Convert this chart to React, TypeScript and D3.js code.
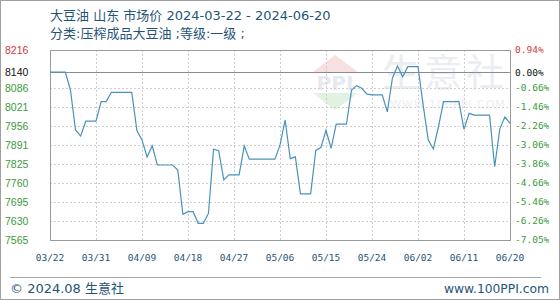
import React, { useEffect } from "react";
import * as d3 from "d3";

const title = "大豆油 山东 市场价 2024-03-22 - 2024-06-20";
const subtitle = "分类:压榨成品大豆油 ;等级:一级 ;";
const baseValue = 8140;
const yMin = 7565;
const yMax = 8216;
const leftTicks = [8216, 8140, 8086, 8021, 7956, 7891, 7825, 7760, 7695, 7630, 7565];
const rightTicks = ["0.94%", "0.00%", "-0.66%", "-1.46%", "-2.26%", "-3.06%", "-3.86%", "-4.66%", "-5.46%", "-6.26%", "-7.05%"];
const xLabels = ["03/22", "03/31", "04/09", "04/18", "04/27", "05/06", "05/15", "05/24", "06/02", "06/11", "06/20"];
const xLabelStep = 9;
// daily prices 03/22 .. 06/20 (91 calendar days)
const prices = [
  8140, 8140, 8140, 8140, 8079, 7942, 7921, 7972, 7972, 7972,
  8039, 8039, 8071, 8071, 8071, 8071, 8071, 7940, 7908, 7849,
  7888, 7822, 7822, 7822, 7822, 7805, 7653, 7662, 7662, 7622,
  7622, 7656, 7876, 7871, 7771, 7788, 7788, 7788, 7887, 7842,
  7842, 7842, 7842, 7842, 7842, 7890, 7976, 7844, 7850, 7723,
  7723, 7723, 7872, 7882, 7941, 7879, 7962, 7962, 7962, 8079,
  8094, 8085, 8065, 8062, 8062, 8062, 8004, 8120, 8161, 8124,
  8159, 8159, 8159, 8028, 7908, 7877, 7953, 8039, 8039, 8039,
  8039, 7944, 7999, 7993, 7993, 7993, 7993, 7816, 7945, 7987,
  7965,
];

const W = 560;
const H = 300;
const L = 50, R = 510, T = 50, B = 240;

export default function App() {
  useEffect(() => {
    document.body.style.margin = "0";
  }, []);

  const x = d3.scaleLinear().domain([0, prices.length - 1]).range([L, R]);
  const y = d3.scaleLinear().domain([yMin, yMax]).range([B, T]);
  const line = d3.line<number>().x((_, i) => x(i)).y((d) => y(d));

  const step = (yMax - yMin) / 10;
  const gridVals = d3.range(2, 10).map((k) => yMax - k * step);
  const vGrid = d3.range(1, xLabels.length - 1).map((i) => i * xLabelStep);

  const textBlue = "#1f5478";
  const green = "#3c9a3c";
  const red = "#d23c3c";
  const labelColor = (i: number) => (i === 0 ? red : i === 1 ? "#111" : green);
  const uiFont = "'DejaVu Sans', 'Noto Sans CJK SC', sans-serif";

  return (
    <svg width={W} height={H} style={{ position: "absolute", left: 0, top: 0, background: "#fff" }}>
      <rect x={0.5} y={0.5} width={W - 1} height={H - 1} fill="#fff" stroke="#a0a0a0" />
      <text x={50} y={20} fontSize={13} fill={textBlue} fontFamily={uiFont}>{title}</text>
      <text x={50} y={38} fontSize={13} fill={textBlue} fontFamily={uiFont}>{subtitle}</text>

      {/* watermark */}
      <g opacity={0.75}>
        <path d="M335,55 L358,72 L313,72 Z" fill="#f6d6d6" />
        <text x={335} y={90} fontSize={20} fontWeight="bold" textAnchor="middle" fill="#dde3ee" fontFamily="'DejaVu Sans', sans-serif">PPI</text>
        <path d="M313,93 L358,93 L335,110 Z" fill="#d9eed9" />
        <text x={445} y={86} fontSize={38} textAnchor="middle" fill="#e3e7ee" fontFamily="'Noto Sans CJK SC', sans-serif" letterSpacing={4}>生意社</text>
        <text x={448} y={108} fontSize={11} textAnchor="middle" fill="#e6e9ef" fontFamily="'DejaVu Sans', sans-serif" letterSpacing={1}>WWW.100PPI.COM</text>
      </g>

      {gridVals.map((v, i) => (
        <line key={"h" + i} x1={L} x2={R} y1={Math.round(y(v)) + 0.5} y2={Math.round(y(v)) + 0.5} stroke="#cfcfcf" strokeDasharray="2,2" />
      ))}
      {vGrid.map((d, i) => (
        <line key={"v" + i} x1={Math.round(x(d)) + 0.5} x2={Math.round(x(d)) + 0.5} y1={T} y2={B} stroke="#cfcfcf" strokeDasharray="2,2" />
      ))}
      <line x1={L} x2={R} y1={Math.round(y(baseValue)) + 0.5} y2={Math.round(y(baseValue)) + 0.5} stroke="#8c8c8c" />
      <rect x={L + 0.5} y={T + 0.5} width={R - L} height={B - T} fill="none" stroke="#9a9a9a" />

      <path d={line(prices) || ""} fill="none" stroke="#4a92bb" strokeWidth={1.2} />

      {leftTicks.map((v, i) => (
        <text key={"l" + i} x={5} y={y(v)} dy="0.35em" fontSize={10.5} fill={labelColor(i)} fontFamily="'Liberation Sans', Arial, sans-serif">{v}</text>
      ))}
      {rightTicks.map((t, i) => (
        <text key={"r" + i} x={515} y={y(leftTicks[i])} dy="0.35em" fontSize={9.5} fill={labelColor(i)} fontFamily="'DejaVu Sans Mono', monospace">{t}</text>
      ))}
      {xLabels.map((t, i) => (
        <text key={"x" + i} x={x(i * xLabelStep)} y={261} textAnchor="middle" fontSize={9.5} fill={textBlue} fontFamily="'DejaVu Sans Mono', monospace">{t}</text>
      ))}

      <line x1={10} x2={541} y1={277.5} y2={277.5} stroke="#a8a8a8" />
      <text x={10} y={293} fontSize={13} fill={textBlue} fontFamily={uiFont}>© 2024.08 生意社</text>
      <text x={549} y={293} fontSize={12.3} textAnchor="end" fill={textBlue} fontFamily="'DejaVu Sans', sans-serif">www.100PPI.com</text>
    </svg>
  );
}
